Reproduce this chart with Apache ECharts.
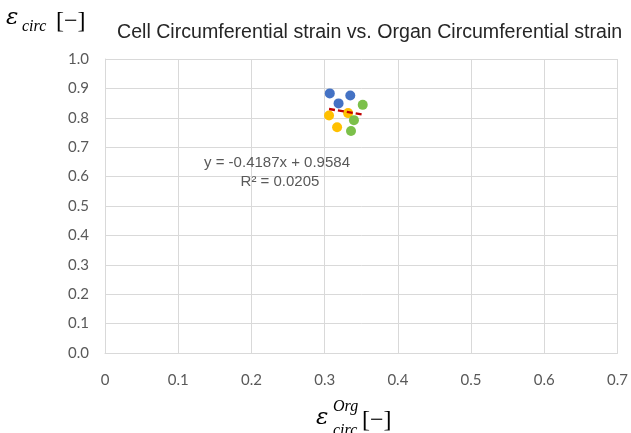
<!DOCTYPE html>
<html>
<head>
<meta charset="utf-8">
<script src="https://cdn.jsdelivr.net/npm/echarts@6/dist/echarts.min.js"></script>
<style>
  html, body { margin: 0; padding: 0; background: #fff; }
  #chart { width: 631px; height: 433px; }
</style>
</head>
<body>
<div id="chart"></div>
<script>
// Organ circumferential strain (x) vs. cell circumferential strain (y), three groups
const blueGroup   = [[0.307, 0.883], [0.335, 0.876], [0.319, 0.849]];
const yellowGroup = [[0.306, 0.808], [0.332, 0.816], [0.317, 0.768]];
const greenGroup  = [[0.352, 0.844], [0.340, 0.792], [0.336, 0.755]];

// Linear trendline fitted over all points
const trendSlope = -0.4187;
const trendIntercept = 0.9584;
const trendR2 = 0.0205;

const xTicks = [0, 0.1, 0.2, 0.3, 0.4, 0.5, 0.6, 0.7];
const yTicks = [0.0, 0.1, 0.2, 0.3, 0.4, 0.5, 0.6, 0.7, 0.8, 0.9, 1.0];

const allPoints = blueGroup.concat(yellowGroup, greenGroup);
const xs = allPoints.map(p => p[0]);
const xLo = Math.min(...xs), xHi = Math.max(...xs);
const trendLine = [
  [xLo, trendSlope * xLo + trendIntercept],
  [xHi, trendSlope * xHi + trendIntercept]
];

const gridColor = '#d9d9d9';
const tickFont = { color: '#595959', fontFamily: 'Lato', fontSize: 15 };
const mathFont = 'Liberation Serif';

const chart = echarts.init(document.getElementById('chart'), null, { renderer: 'canvas' });

const scatterStyle = (data, color) => ({
  type: 'scatter',
  data: data,
  symbol: 'circle',
  symbolSize: 10,
  itemStyle: { color: color, opacity: 1 },
  z: 3
});

const mathText = (text, x, y, size, italic, family) => ({
  type: 'text', z: 10,
  style: {
    text: text, x: x, y: y, verticalAlign: 'bottom',
    font: (italic ? 'italic ' : '') + size + 'px "' + (family || mathFont) + '"', fill: '#000'
  }
});

chart.setOption({
  animation: false,
  backgroundColor: '#fff',
  title: {
    text: 'Cell Circumferential strain vs. Organ Circumferential strain',
    left: 112,
    top: 18,
    textStyle: { fontFamily: 'Liberation Sans', fontSize: 19.6, fontWeight: 'normal', color: '#262626' }
  },
  grid: { left: 105, right: 12, top: 59, bottom: 80, containLabel: false },
  xAxis: {
    type: 'value',
    min: xTicks[0],
    max: xTicks[xTicks.length - 1],
    interval: 0.1,
    axisLine: { show: true, lineStyle: { color: gridColor, width: 1 } },
    axisTick: { show: false },
    splitLine: { show: true, showMinLine: true, showMaxLine: true, lineStyle: { color: gridColor, width: 1 } },
    axisLabel: Object.assign({ margin: 20, formatter: v => {
      const t = xTicks.find(k => Math.abs(k - v) < 1e-9);
      return t === 0 ? '0' : t.toFixed(1);
    } }, tickFont)
  },
  yAxis: {
    type: 'value',
    min: yTicks[0],
    max: yTicks[yTicks.length - 1],
    interval: 0.1,
    axisLine: { show: true, lineStyle: { color: gridColor, width: 1 } },
    axisTick: { show: false },
    splitLine: { show: true, showMinLine: true, showMaxLine: true, lineStyle: { color: gridColor, width: 1 } },
    axisLabel: Object.assign({ margin: 16, formatter: v => v.toFixed(1) }, tickFont)
  },
  series: [
    scatterStyle(blueGroup, '#4472C4'),
    scatterStyle(yellowGroup, '#FFC000'),
    scatterStyle(greenGroup, '#7CC04A'),
    {
      type: 'line',
      data: trendLine,
      symbol: 'none',
      lineStyle: { color: '#C00000', width: 2.5, type: [6, 3] },
      z: 4
    }
  ],
  graphic: [
    // trendline equation and R²
    {
      type: 'text', z: 10,
      style: {
        text: 'y = ' + trendSlope + 'x + ' + trendIntercept,
        x: 277, y: 163, align: 'center', verticalAlign: 'middle',
        font: '15px "Liberation Sans"', fill: '#595959'
      }
    },
    {
      type: 'text', z: 10,
      style: {
        text: 'R² = ' + trendR2,
        x: 280, y: 182, align: 'center', verticalAlign: 'middle',
        font: '15px "Liberation Sans"', fill: '#595959'
      }
    },
    // y-axis title: ε_circ [−]
    mathText('ε', 6, 30, 23, true, 'DejaVu Serif'),
    mathText('circ', 22, 35, 16, true),
    mathText('[−]', 56, 34, 24, false),
    // x-axis title: ε_circ^Org [−]
    mathText('ε', 316, 430, 23, true, 'DejaVu Serif'),
    mathText('Org', 333, 415, 16, true),
    mathText('circ', 333, 439, 16, true),
    mathText('[−]', 362, 433, 24, false)
  ]
});
</script>
</body>
</html>
